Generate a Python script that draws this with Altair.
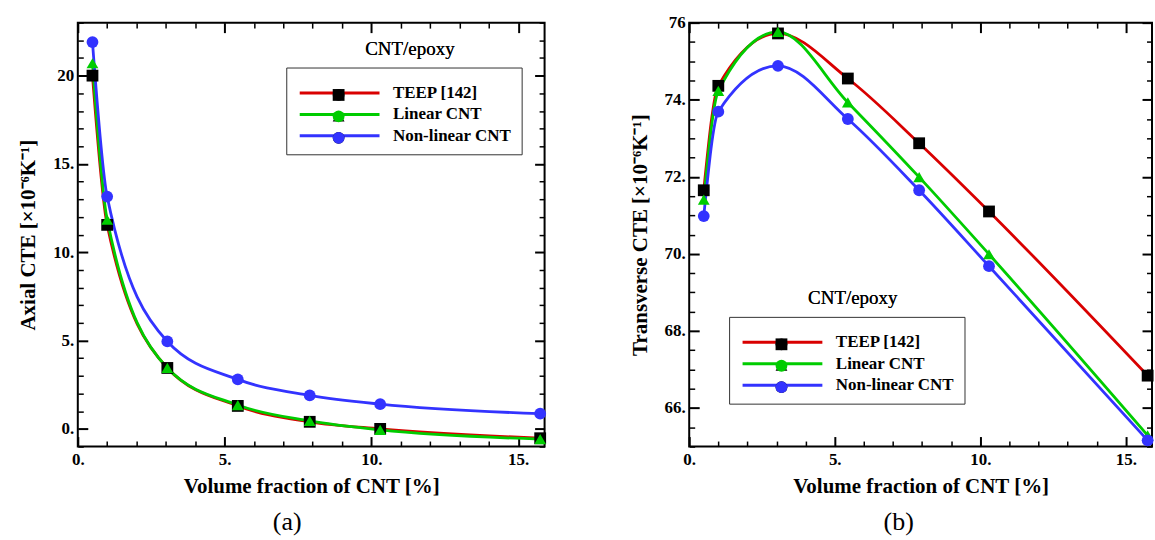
import altair as alt
import pandas as pd

FONT = "Liberation Serif"

# ---------------- data ----------------
vol_frac = [0.5, 1.0, 3.05, 5.45, 7.9, 10.3, 15.75]
series_names = ["TEEP [142]", "Linear CNT", "Non-linear CNT"]

axial_teep = [20.0, 11.55, 3.45, 1.3, 0.4, 0.0, -0.53]
axial_linear = [20.7, 11.85, 3.45, 1.35, 0.45, -0.06, -0.58]
axial_nonlinear = [21.9, 13.15, 4.95, 2.8, 1.9, 1.4, 0.86]

trans_teep = [71.65, 74.36, 75.72, 74.55, 72.87, 71.10, 66.84]
trans_linear = [71.41, 74.23, 75.76, 73.93, 71.99, 69.99, 65.29]
trans_nonlinear = [70.98, 73.69, 74.88, 73.50, 71.65, 69.68, 65.16]

x_major = [0, 5, 10, 15]
x_minor = [1, 2, 3, 4, 6, 7, 8, 9, 11, 12, 13, 14]
axial_major = [0, 5, 10, 15, 20]
axial_minor = [-1, 1, 2, 3, 4, 6, 7, 8, 9, 11, 12, 13, 14, 16, 17, 18, 19, 21, 22, 23]
trans_major = [66, 68, 70, 72, 74, 76]
trans_minor = [65, 65.5, 66.5, 67, 67.5, 68.5, 69, 69.5, 70.5, 71, 71.5,
               72.5, 73, 73.5, 74.5, 75, 75.5]

line_colors = ["#d90000", "#00cc00", "#3333ff"]
marker_fills = ["#000000", "#00cc00", "#3333ff"]
marker_shapes = ["square", "triangle-up", "circle"]


def long_frame(values_by_series):
    rows = []
    for name, vals in zip(series_names, values_by_series):
        for xv, yv in zip(vol_frac, vals):
            rows.append({"x": xv, "y": yv, "series": name, "series_m": name})
    return pd.DataFrame(rows)


df_a = long_frame([axial_teep, axial_linear, axial_nonlinear])
df_b = long_frame([trans_teep, trans_linear, trans_nonlinear])

MAJ, MIN = 10, 5.5


def tick_axis(orient, values, size, width):
    return alt.Axis(orient=orient, values=values, tickSize=size, offset=-size,
                    tickWidth=width, tickColor="black", domain=False, grid=False,
                    labels=False, title=None)


def main_axis(orient, values, title, label_expr, label_pad, title_pad):
    return alt.Axis(orient=orient, values=values, tickSize=MAJ, offset=-MAJ,
                    tickWidth=2, tickColor="black", domain=False, grid=False,
                    labels=True, labelFont=FONT, labelFontSize=17,
                    labelFontWeight="bold", labelColor="black",
                    labelPadding=label_pad, labelFlush=False, labelOverlap=False,
                    labelExpr=label_expr,
                    title=title, titleFont=FONT, titleFontSize=21,
                    titleFontWeight="bold", titleColor="black",
                    titlePadding=title_pad)


def panel(df, ydom, ymajor, yminor, ytitle, ytop, tag, tag_dx, box_x, box_y, width):
    xs = alt.Scale(domain=[0, 15.9], nice=False, zero=False)
    ys = alt.Scale(domain=ydom, nice=False, zero=False)
    base = alt.Chart(df)

    # legend with the coloured lines, the box and the labels
    line_legend = alt.Legend(
        orient="none", legendX=box_x, legendY=box_y - 10,
        title=" ", titleFontSize=1, titlePadding=6,
        symbolType="M-1,0H15", symbolSize=100, symbolStrokeWidth=3,
        labelFont=FONT, labelFontSize=17, labelFontWeight="bold",
        labelColor="black", labelOffset=80, strokeColor="#333333",
        padding=10, rowPadding=3.5, zindex=1)

    # legend with the markers (drawn on top of the lines) and the caption
    marker_legend = alt.Legend(
        orient="none", legendX=box_x + 44, legendY=box_y - 38,
        title="CNT/epoxy", titleFont=FONT, titleFontSize=19,
        titleFontWeight="normal", titleColor="black", titleAnchor="middle",
        titlePadding=28, symbolSize=140, symbolStrokeWidth=0,
        labelFont=FONT, labelFontSize=17, labelExpr="''",
        labelOffset=142, padding=0, rowPadding=3.5, zindex=2)

    lines = base.mark_line(interpolate="monotone", strokeWidth=2.8).encode(
        x=alt.X("x:Q", scale=xs,
                axis=main_axis("bottom", x_major, "Volume fraction of CNT [%]",
                               "datum.label + '.'", 5, 8)),
        y=alt.Y("y:Q", scale=ys,
                axis=main_axis("left", ymajor, ytitle,
                               "datum.value == %s ? datum.label : datum.label + '.'" % ytop,
                               4, 14)),
        color=alt.Color("series:N", sort=series_names,
                        scale=alt.Scale(range=line_colors), legend=line_legend),
    )

    points = base.mark_point(filled=True, opacity=1, size=140).encode(
        x=alt.X("x:Q", scale=xs, axis=tick_axis("top", x_major, MAJ, 2)),
        y=alt.Y("y:Q", scale=ys, axis=tick_axis("right", ymajor, MAJ, 2)),
        shape=alt.Shape("series_m:N", sort=series_names,
                        scale=alt.Scale(range=marker_shapes), legend=marker_legend),
        fill=alt.Fill("series_m:N", sort=series_names,
                      scale=alt.Scale(range=marker_fills), legend=marker_legend),
    )

    minor_bl = base.mark_point(opacity=0).encode(
        x=alt.X("x:Q", scale=xs, axis=tick_axis("bottom", x_minor, MIN, 1.5)),
        y=alt.Y("y:Q", scale=ys, axis=tick_axis("left", yminor, MIN, 1.5)),
    )
    minor_tr = base.mark_point(opacity=0).encode(
        x=alt.X("x:Q", scale=xs, axis=tick_axis("top", x_minor, MIN, 1.5)),
        y=alt.Y("y:Q", scale=ys, axis=tick_axis("right", yminor, MIN, 1.5)),
    )

    return alt.layer(lines, points, minor_bl, minor_tr).resolve_axis(
        x="independent", y="independent"
    ).properties(
        width=width,
        height=425,
        title=alt.TitleParams(text=tag, orient="bottom", anchor="middle",
                              frame="group", dx=tag_dx, offset=13, font=FONT,
                              fontSize=26, fontWeight="normal", color="black"),
    )


left = panel(df_a, [-1, 23], axial_major, axial_minor,
             "Axial CTE [×10⁻⁶K⁻¹]", 20, "(a)", -24, 209, 55, 468)
right = panel(df_b, [65, 76], trans_major, trans_minor,
              "Transverse CTE [×10⁻⁶K⁻¹]", 76, "(b)", -22, 40, 305, 464)

chart = alt.hconcat(left, right, spacing=145, bounds="flush").resolve_scale(
    color="independent", shape="independent", fill="independent"
).resolve_legend(
    color="independent", shape="independent", fill="independent"
).properties(
    padding={"left": 16, "top": 12, "right": 0, "bottom": 0},
    background="white",
).configure_view(
    stroke="black", strokeWidth=2
).configure_legend(
    strokeWidth=1
)

chart.save("out.html", embed_options={"renderer": "svg", "actions": False})
